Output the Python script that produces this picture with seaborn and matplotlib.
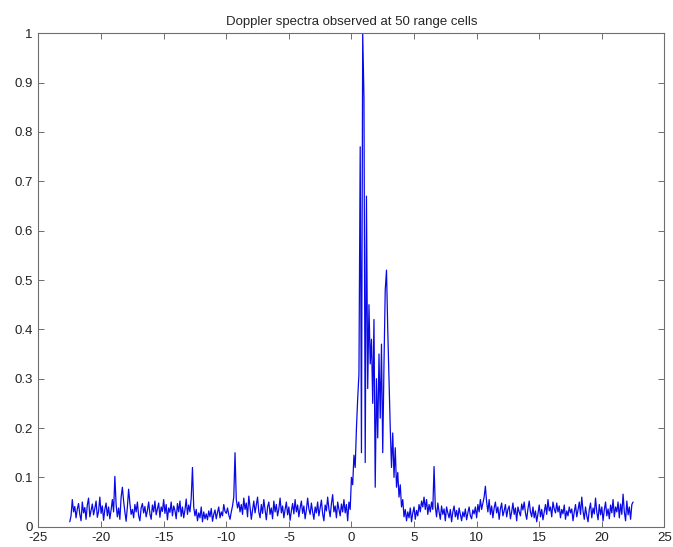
import numpy as np
import pandas as pd
import matplotlib
matplotlib.use("Agg")
import matplotlib.pyplot as plt
import seaborn as sns

# Doppler spectrum, one row per 1 Hz starting at -22.5
spectrum = [
    0.010, 0.022, 0.055, 0.030, 0.041, 0.018, 0.036, 0.047, 0.025, 0.012,
    0.050, 0.028, 0.039, 0.015, 0.044, 0.058, 0.020, 0.033, 0.046, 0.024,
    0.037, 0.052, 0.019, 0.031, 0.060, 0.027, 0.042, 0.013, 0.035, 0.048,
    0.022, 0.040, 0.016, 0.034, 0.055, 0.030, 0.102, 0.045, 0.020, 0.038,
    0.015, 0.060, 0.080, 0.052, 0.030, 0.011, 0.040, 0.076, 0.048, 0.025,
    0.035, 0.018, 0.045, 0.030, 0.050, 0.022, 0.012, 0.038, 0.047, 0.028,
    0.041, 0.020, 0.033, 0.050, 0.026, 0.015, 0.044, 0.030, 0.052, 0.024,
    0.036, 0.048, 0.019, 0.040, 0.031, 0.055, 0.027, 0.045, 0.014, 0.038,
    0.029, 0.050, 0.022, 0.042, 0.033, 0.016, 0.047, 0.030, 0.052, 0.021,
    0.040, 0.018, 0.034, 0.056, 0.025, 0.044, 0.030, 0.058, 0.120, 0.040,
    0.022, 0.035, 0.012, 0.028, 0.018, 0.040, 0.010, 0.030, 0.016, 0.026,
    0.014, 0.032, 0.020, 0.037, 0.011, 0.025, 0.034, 0.016, 0.029, 0.040,
    0.018, 0.030, 0.022, 0.045, 0.031, 0.027, 0.038, 0.024, 0.015, 0.030,
    0.042, 0.060, 0.150, 0.055, 0.038, 0.050, 0.030, 0.045, 0.025, 0.058,
    0.035, 0.048, 0.020, 0.062, 0.040, 0.015, 0.033, 0.052, 0.028, 0.044,
    0.060, 0.030, 0.018, 0.045, 0.027, 0.055, 0.035, 0.014, 0.040, 0.050,
    0.025, 0.038, 0.016, 0.052, 0.030, 0.045, 0.022, 0.036, 0.058, 0.028,
    0.042, 0.018, 0.035, 0.050, 0.024, 0.040, 0.013, 0.032, 0.047, 0.026,
    0.055, 0.030, 0.044, 0.020, 0.038, 0.052, 0.027, 0.042, 0.016, 0.034,
    0.058, 0.036, 0.025, 0.048, 0.030, 0.015, 0.040, 0.028, 0.050, 0.022,
    0.038, 0.054, 0.026, 0.012, 0.044, 0.032, 0.060, 0.036, 0.020, 0.047,
    0.065, 0.030, 0.042, 0.018, 0.050, 0.035, 0.022, 0.046, 0.030, 0.055,
    0.028, 0.045, 0.012, 0.050, 0.035, 0.100, 0.085, 0.145, 0.120, 0.200,
    0.260, 0.310, 0.770, 0.150, 1.000, 0.870, 0.130, 0.670, 0.280, 0.450,
    0.330, 0.380, 0.250, 0.420, 0.080, 0.300, 0.180, 0.350, 0.220, 0.370,
    0.150, 0.330, 0.480, 0.520, 0.400, 0.300, 0.200, 0.120, 0.190, 0.100,
    0.160, 0.080, 0.110, 0.060, 0.085, 0.040, 0.055, 0.020, 0.035, 0.012,
    0.030, 0.018, 0.038, 0.010, 0.028, 0.040, 0.015, 0.033, 0.022, 0.045,
    0.030, 0.052, 0.040, 0.060, 0.035, 0.055, 0.025, 0.045, 0.030, 0.050,
    0.035, 0.122, 0.040, 0.020, 0.048, 0.030, 0.015, 0.042, 0.025, 0.036,
    0.012, 0.040, 0.028, 0.018, 0.035, 0.010, 0.030, 0.042, 0.020, 0.033,
    0.015, 0.038, 0.025, 0.012, 0.030, 0.020, 0.036, 0.014, 0.028, 0.040,
    0.022, 0.016, 0.034, 0.026, 0.040, 0.018, 0.045, 0.030, 0.055, 0.035,
    0.048, 0.060, 0.082, 0.050, 0.030, 0.055, 0.025, 0.042, 0.018, 0.038,
    0.050, 0.028, 0.040, 0.015, 0.036, 0.048, 0.022, 0.032, 0.045, 0.020,
    0.035, 0.042, 0.016, 0.030, 0.048, 0.025, 0.038, 0.012, 0.040, 0.030,
    0.022, 0.046, 0.034, 0.050, 0.028, 0.015, 0.036, 0.052, 0.030, 0.020,
    0.040, 0.018, 0.032, 0.010, 0.026, 0.044, 0.020, 0.035, 0.014, 0.030,
    0.045, 0.025, 0.055, 0.032, 0.040, 0.020, 0.050, 0.036, 0.028, 0.048,
    0.030, 0.042, 0.018, 0.035, 0.026, 0.044, 0.015, 0.032, 0.022, 0.040,
    0.028, 0.036, 0.012, 0.030, 0.045, 0.020, 0.034, 0.050, 0.025, 0.060,
    0.032, 0.015, 0.040, 0.022, 0.010, 0.035, 0.048, 0.018, 0.038, 0.026,
    0.058, 0.030, 0.014, 0.045, 0.024, 0.040, 0.012, 0.034, 0.050, 0.022,
    0.036, 0.016, 0.044, 0.028, 0.055, 0.020, 0.040, 0.030, 0.050, 0.018,
    0.046, 0.025, 0.066, 0.030, 0.012, 0.052, 0.024, 0.040, 0.015, 0.045,
    0.050,
]
freq = np.linspace(-22.5, 22.5, len(spectrum))

x_ticks = list(range(-25, 30, 5))
y_ticks = [round(0.1 * i, 1) for i in range(11)]
title = "Doppler spectra observed at 50 range cells"

df = pd.DataFrame({"freq": freq, "power": spectrum})

sns.set_style("white")
plt.rcParams["font.family"] = ["Liberation Sans", "DejaVu Sans"]

fig = plt.figure(figsize=(6.73, 5.47), dpi=100)
ax = fig.add_axes([0.0572, 0.0371, 0.930, 0.902])

sns.lineplot(data=df, x="freq", y="power", color="#0a0ae6", linewidth=0.9,
             sort=False, estimator=None, ax=ax)

ax.set_xlim(-25, 25)
ax.set_ylim(0, 1)
ax.set_xticks(x_ticks)
ax.set_yticks(y_ticks)
ax.set_xticklabels([str(t) for t in x_ticks])
ax.set_yticklabels(["0"] + [f"{t:g}" for t in y_ticks[1:-1]] + ["1"])
ax.set_xlabel("")
ax.set_ylabel("")
ax.set_title(title, fontsize=9.5, pad=6)

for side in ["left", "right", "top", "bottom"]:
    ax.spines[side].set_visible(True)
    ax.spines[side].set_color("#6e6e6e")
    ax.spines[side].set_linewidth(0.8)
ax.tick_params(direction="in", length=4, width=0.7, colors="#6e6e6e",
               labelcolor="#222222", labelsize=9.5, top=True, right=True,
               left=True, bottom=True, pad=4)

plt.savefig("out.png", dpi=100)
